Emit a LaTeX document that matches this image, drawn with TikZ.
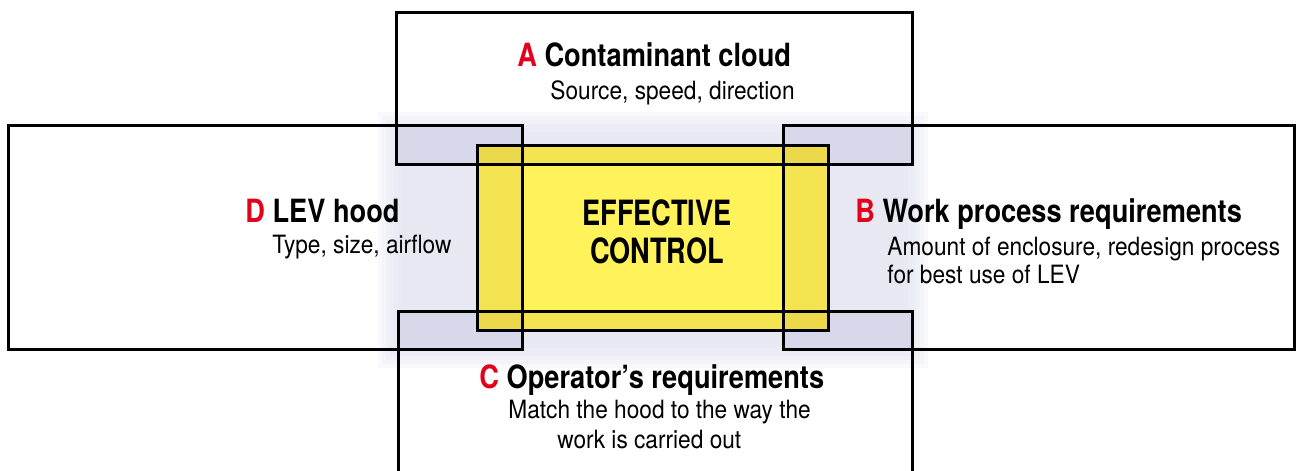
\documentclass[tikz,border=0pt]{standalone}
\usepackage{fontspec}
\newfontfamily\hfont{TeX Gyre Heros}[FakeStretch=0.85]
\newfontfamily\bfont{TeX Gyre Heros}[FakeStretch=0.90]
\newfontfamily\cfont{TeX Gyre Heros}[FakeStretch=0.78]
\definecolor{lav}{HTML}{E6E6F3}
\definecolor{lavdark}{HTML}{D8D8EB}
\definecolor{yel}{HTML}{FFF25A}
\definecolor{yeldark}{HTML}{C8A830}
\definecolor{lred}{HTML}{E2001A}
\tikzset{
  frame/.style={draw=black, line width=1.5pt},
  head/.style={anchor=base west, inner sep=0pt, font=\hfont\bfseries\fontsize{16}{18}\selectfont},
  body/.style={anchor=base west, inner sep=0pt, font=\bfont\fontsize{12.6}{15}\selectfont},
  centre/.style={anchor=base, inner sep=0pt, font=\cfont\bfseries\fontsize{17.4}{19}\selectfont},
}
\newcommand{\lett}[1]{\textcolor{lred}{#1}}
\begin{document}
\begin{tikzpicture}[x=0.5pt,y=-0.5pt]
\useasboundingbox (0,0) rectangle (1296,471);
\clip (0,0) rectangle (1296,471);
\fill[white] (0,0) rectangle (1296,471);
% glow
\foreach \i in {0,4,...,24}{
  \fill[lav, opacity=0.22] (378+\i,112+\i) rectangle (928-\i,368-\i);
}
% corner overlaps
\fill[lavdark] (396,125) rectangle (522,164);
\fill[lavdark] (783,125) rectangle (912,164);
\fill[lavdark] (398,311) rectangle (522,349);
\fill[lavdark] (783,311) rectangle (912,349);
% yellow
\fill[yel] (477,145) rectangle (828,330);
\fill[yeldark, opacity=0.18] (477,145) rectangle (828,164);
\fill[yeldark, opacity=0.18] (477,311) rectangle (828,330);
\fill[yeldark, opacity=0.18] (477,145) rectangle (522,330);
\fill[yeldark, opacity=0.18] (783,145) rectangle (828,330);
% frames
\draw[frame] (396,12) rectangle (912,164);
\draw[frame] (8,125) rectangle (522,349);
\draw[frame] (783,125) rectangle (1294,349);
\draw[frame] (398,480) -- (398,311) -- (912,311) -- (912,480);
\draw[frame] (477,145) rectangle (828,330);
% texts
\node[head] (ah) at (517,66) {\lett{A} Contaminant cloud};
\node[body] (ab) at (550,99) {Source, speed, direction};
\node[head] (dh) at (245,222) {\lett{D} LEV hood};
\node[body] (db) at (272,253) {Type, size, airflow};
\node[head] (bh) at (855,222) {\lett{B} Work process requirements};
\node[body] (bb1) at (887,255) {Amount of enclosure, redesign process};
\node[body] (bb2) at (887,283) {for best use of LEV};
\node[head] (ch) at (479,388) {\lett{C} Operator’s requirements};
\node[body] (cb1) at (508,418) {Match the hood to the way the};
\node[body] (cb2) at (557,448) {work is carried out};
\node[centre] (e1) at (657,225) {EFFECTIVE};
\node[centre] (e2) at (657,263) {CONTROL};
\end{tikzpicture}
\end{document}
